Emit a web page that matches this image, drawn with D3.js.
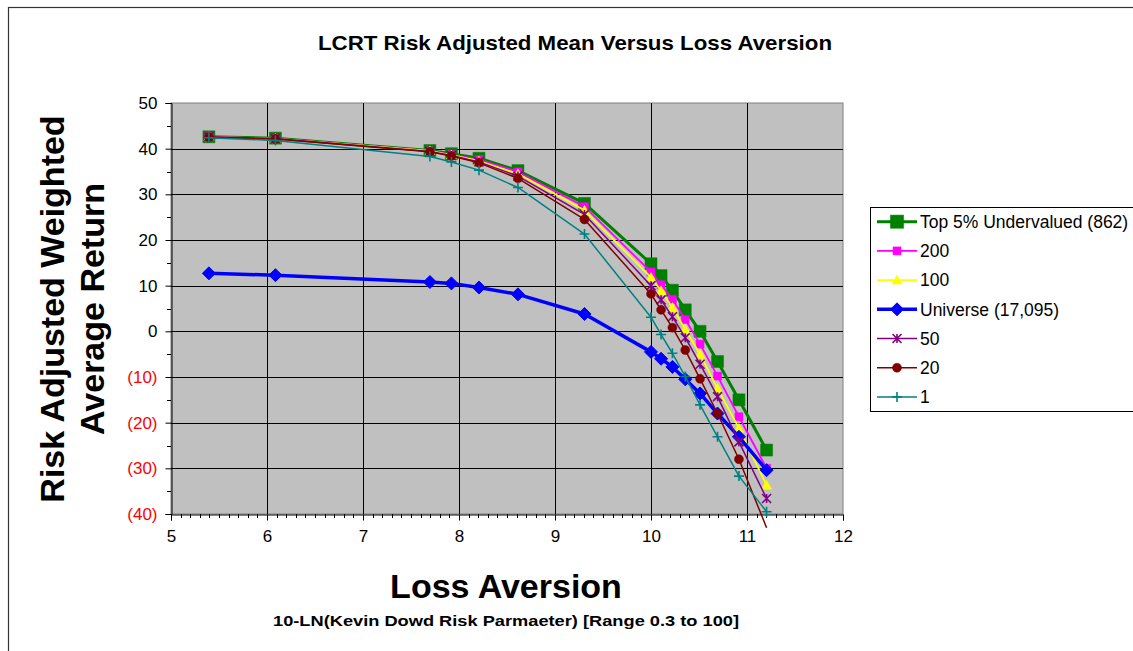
<!DOCTYPE html>
<html>
<head>
<meta charset="utf-8">
<script src="https://cdn.jsdelivr.net/npm/d3@7"></script>
<style>
  html, body { margin: 0; padding: 0; background: #fff; }
  svg { display: block; font-family: "Liberation Sans", Arial, sans-serif; }
</style>
</head>
<body>
<svg id="chart" width="1133" height="651"></svg>
<script>
// ---------- DATA ----------
const lossAversion = [5.395, 6.088, 7.697, 7.921, 8.208, 8.614, 9.307, 10, 10.105, 10.223, 10.357, 10.511, 10.693, 10.916, 11.204];
const top5Undervalued = [42.6, 42.3, 39.6, 38.9, 37.9, 35.2, 28.0, 14.8, 12.2, 9.0, 4.7, 0.0, -6.6, -15.0, -26.0];
const top200 = [42.6, 42.2, 39.5, 38.7, 37.6, 34.9, 27.3, 13.0, 10.2, 7.0, 2.6, -2.8, -9.8, -18.7, -30.0];
const top100 = [42.6, 42.2, 39.5, 38.6, 37.3, 34.5, 26.5, 11.8, 8.9, 5.2, 0.4, -5.0, -12.5, -21.2, -33.7];
const universe = [12.7, 12.3, 10.8, 10.5, 9.6, 8.1, 3.8, -4.5, -6.0, -7.8, -10.5, -13.6, -18.0, -23.1, -30.4];
const top50 = [42.6, 42.2, 39.4, 38.5, 37.1, 34.0, 25.6, 10.0, 6.9, 3.2, -1.4, -7.2, -14.3, -24.2, -36.6];
const top20 = [42.5, 42.1, 39.3, 38.4, 36.9, 33.5, 24.5, 8.2, 4.7, 0.8, -4.1, -10.4, -18.0, -28.0, -43.0];
const top1 = [42.4, 41.8, 38.3, 37.1, 35.3, 31.5, 21.3, 3.1, -0.7, -4.8, -9.9, -16.1, -23.1, -31.7, -39.5];

const seriesNames = ["Top 5% Undervalued (862)", "200", "100", "Universe (17,095)", "50", "20", "1"];
const xTicks = [5, 6, 7, 8, 9, 10, 11, 12];
const yTicks = [50, 40, 30, 20, 10, 0, -10, -20, -30, -40];

const titleText = "LCRT Risk Adjusted Mean Versus Loss Aversion";
const yTitleLines = ["Risk Adjusted Weighted", "Average Return"];
const xTitleText = "Loss Aversion";
const xSubtitleText = "10-LN(Kevin Dowd Risk Parmaeter) [Range 0.3 to 100]";

// ---------- STYLE ----------
const styles = [
  { color: "#008000", width: 3,   marker: "square",   size: 12 },
  { color: "#FF00FF", width: 1.8, marker: "square",   size: 8 },
  { color: "#FFFF00", width: 1.8, marker: "triangle", size: 10 },
  { color: "#0000FF", width: 3.5, marker: "diamond",  size: 13 },
  { color: "#800080", width: 1.5, marker: "star",     size: 9 },
  { color: "#800000", width: 1.5, marker: "circle",   size: 9 },
  { color: "#008080", width: 1.5, marker: "plus",     size: 10 }
];
const seriesValues = [top5Undervalued, top200, top100, universe, top50, top20, top1];

const svg = d3.select("#chart");
const plot = { left: 171, right: 843, top: 103, bottom: 514 };

const x = d3.scaleLinear().domain([5, 12]).range([plot.left, plot.right]);
const y = d3.scaleLinear().domain([-40, 50]).range([plot.bottom, plot.top]);

// outer border
svg.append("rect").attr("x", 8.5).attr("y", 7.5).attr("width", 1140).attr("height", 680)
  .attr("fill", "#fff").attr("stroke", "#333").attr("stroke-width", 1.2);

// title
svg.append("text").attr("x", 575).attr("y", 50).attr("text-anchor", "middle")
  .attr("font-weight", "bold").attr("font-size", 21)
  .attr("textLength", 514).attr("lengthAdjust", "spacingAndGlyphs").text(titleText);

// plot background
svg.append("rect").attr("x", plot.left).attr("y", plot.top)
  .attr("width", plot.right - plot.left).attr("height", plot.bottom - plot.top)
  .attr("fill", "#C0C0C0").attr("stroke", "#808080").attr("stroke-width", 1);

// gridlines
svg.append("g").selectAll("line.h").data(yTicks.filter(d => d > -40 && d < 50)).join("line")
  .attr("x1", plot.left).attr("x2", plot.right)
  .attr("y1", d => Math.round(y(d)) + 0.5).attr("y2", d => Math.round(y(d)) + 0.5)
  .attr("stroke", "#000").attr("stroke-width", 1);
svg.append("g").selectAll("line.v").data(xTicks.filter(d => d > 5 && d < 12)).join("line")
  .attr("y1", plot.top).attr("y2", plot.bottom)
  .attr("x1", d => Math.round(x(d)) + 0.5).attr("x2", d => Math.round(x(d)) + 0.5)
  .attr("stroke", "#000").attr("stroke-width", 1);

// Y axis
const yAxis = d3.axisLeft(y).tickValues(yTicks).tickSize(6).tickPadding(8)
  .tickFormat(d => d < 0 ? "(" + (-d) + ")" : String(d));
const gy = svg.append("g").attr("transform", `translate(${plot.left + 0.5},0)`).call(yAxis);
gy.select(".domain").attr("stroke", "#000");
gy.selectAll(".tick line").attr("stroke", "#000");
gy.selectAll(".tick text").attr("font-size", 17).attr("font-family", "Liberation Sans, Arial, sans-serif")
  .attr("fill", d => d < 0 ? "#FF0000" : "#000");
// minor y ticks
const yMinor = d3.range(-35, 50, 10);
svg.append("g").selectAll("line").data(yMinor).join("line")
  .attr("x1", plot.left - 4).attr("x2", plot.left)
  .attr("y1", d => Math.round(y(d)) + 0.5).attr("y2", d => Math.round(y(d)) + 0.5)
  .attr("stroke", "#000");

// X axis
const xAxis = d3.axisBottom(x).tickValues(xTicks).tickSize(6).tickPadding(9).tickFormat(d3.format("d"));
const gx = svg.append("g").attr("transform", `translate(0,${plot.bottom + 0.5})`).call(xAxis);
gx.select(".domain").attr("stroke", "#000");
gx.selectAll(".tick line").attr("stroke", "#000");
gx.selectAll(".tick text").attr("font-size", 17).attr("font-family", "Liberation Sans, Arial, sans-serif").attr("fill", "#000");
const xMinor = d3.range(50, 120).map(d => d / 10).filter(d => Math.abs(d - Math.round(d)) > 1e-6);
svg.append("g").selectAll("line").data(xMinor).join("line")
  .attr("y1", plot.bottom).attr("y2", plot.bottom + 4)
  .attr("x1", d => Math.round(x(d)) + 0.5).attr("x2", d => Math.round(x(d)) + 0.5)
  .attr("stroke", "#000");

// axis titles
const yt = svg.append("text").attr("transform", "translate(52,309) rotate(-90)")
  .attr("text-anchor", "middle").attr("font-weight", "bold").attr("font-size", 34);
yt.append("tspan").attr("x", 0).attr("dy", 12).text(yTitleLines[0]);
yt.append("tspan").attr("x", 0).attr("dy", 40).text(yTitleLines[1]);

svg.append("text").attr("x", 506).attr("y", 598).attr("text-anchor", "middle")
  .attr("font-weight", "bold").attr("font-size", 34).text(xTitleText);
svg.append("text").attr("x", 506).attr("y", 626).attr("text-anchor", "middle")
  .attr("font-weight", "bold").attr("font-size", 15.5)
  .attr("textLength", 466).attr("lengthAdjust", "spacingAndGlyphs").text(xSubtitleText);

// marker drawing
function markerPath(type, s) {
  const h = s / 2;
  switch (type) {
    case "square": return `M${-h},${-h}H${h}V${h}H${-h}Z`;
    case "triangle": return `M0,${-h}L${h},${h * 0.8}L${-h},${h * 0.8}Z`;
    case "diamond": return `M0,${-h}L${h},0L0,${h}L${-h},0Z`;
    case "circle": return d3.symbol(d3.symbolCircle, Math.PI * h * h)();
    case "plus": return `M${-h},0H${h}M0,${-h}V${h}`;
    case "star": return `M${-h},${-h}L${h},${h}M${-h},${h}L${h},${-h}M0,${-h}V${h}`;
  }
}
function drawMarker(g, st, cx, cy, sizeScale = 1) {
  const open = st.marker === "plus" || st.marker === "star";
  g.append("path").attr("d", markerPath(st.marker, st.size * sizeScale))
    .attr("transform", `translate(${cx},${cy})`)
    .attr("fill", open ? "none" : st.color)
    .attr("stroke", st.color).attr("stroke-width", open ? 1.6 : (st.marker === "diamond" ? 1 : 0.5));
}

const line = d3.line().x(d => x(d[0])).y(d => y(d[1]));
const seriesG = svg.append("g");
seriesValues.forEach((vals, i) => {
  const st = styles[i];
  const pts = lossAversion.map((xv, k) => [xv, vals[k]]);
  const g = seriesG.append("g");
  g.append("path").attr("d", line(pts)).attr("fill", "none")
    .attr("stroke", st.color).attr("stroke-width", st.width).attr("stroke-linejoin", "round");
  pts.filter(p => p[1] >= -40 && p[1] <= 50).forEach(p => drawMarker(g, st, x(p[0]), y(p[1])));
});

// legend
const lg = svg.append("g");
lg.append("rect").attr("x", 870.5).attr("y", 207.5).attr("width", 300).attr("height", 204)
  .attr("fill", "#fff").attr("stroke", "#000").attr("stroke-width", 1);
seriesNames.forEach((name, i) => {
  const st = styles[i];
  const cy = 221.7 + i * 29.2;
  lg.append("line").attr("x1", 877).attr("x2", 917).attr("y1", cy).attr("y2", cy)
    .attr("stroke", st.color).attr("stroke-width", st.width);
  drawMarker(lg, st, 897, cy, i === 0 ? 1.1 : 1);
  lg.append("text").attr("x", 920).attr("y", cy).attr("dy", "0.36em")
    .attr("font-size", 17.5).attr("fill", "#000").text(name);
});
</script>
</body>
</html>
